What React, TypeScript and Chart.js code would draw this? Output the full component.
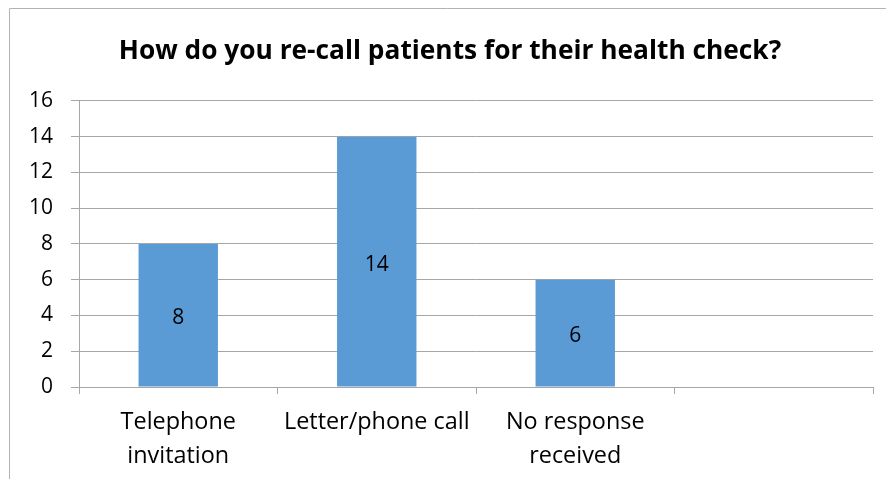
import React, { useEffect, useRef } from "react";
import { Chart, registerables } from "chart.js";

Chart.register(...registerables);

const titleText = "How do you re-call patients for their health check?";
const categories: (string | string[])[] = [
  ["Telephone", "invitation"],
  "Letter/phone call",
  ["No response", "received"],
  "",
];
const values: (number | null)[] = [8, 14, 6, null];
const yMin = 0;
const yMax = 16;
const yStep = 2;

const FONT = "'Open Sans', Lato, sans-serif";
const GRID = "#a6a6a6";
const BAR = "#5b9bd5";

const framePlugin = {
  id: "frame",
  beforeDraw(chart: any) {
    const ctx = chart.ctx;
    ctx.save();
    ctx.strokeStyle = "#b3b3b3";
    ctx.lineWidth = 1;
    ctx.beginPath();
    ctx.moveTo(9.5, chart.height);
    ctx.lineTo(9.5, 8.5);
    ctx.lineTo(886, 8.5);
    ctx.stroke();
    ctx.restore();
  },
};

const valueLabelPlugin = {
  id: "valueLabels",
  afterDatasetsDraw(chart: any) {
    const ctx = chart.ctx;
    ctx.save();
    ctx.font = `21px ${FONT}`;
    ctx.fillStyle = "#000";
    ctx.textAlign = "center";
    ctx.textBaseline = "middle";
    chart.data.datasets.forEach((ds: any, di: number) => {
      const meta = chart.getDatasetMeta(di);
      meta.data.forEach((el: any, i: number) => {
        const v = ds.data[i];
        if (v === null || v === undefined) return;
        const { x, y, base } = el.getProps(["x", "y", "base"], true);
        ctx.fillText(String(v), x, (y + base) / 2 + 3);
      });
    });
    ctx.restore();
  },
};

export default function App() {
  const ref = useRef<HTMLCanvasElement | null>(null);
  useEffect(() => {
    if (!ref.current) return;
    const chart = new Chart(ref.current, {
      type: "bar",
      data: {
        labels: categories,
        datasets: [
          {
            data: values,
            backgroundColor: BAR,
            borderWidth: 0,
            categoryPercentage: 1,
            barPercentage: 0.4,
          },
        ],
      },
      options: {
        animation: false,
        responsive: false,
        layout: { padding: { left: 27, right: 15, top: 0, bottom: 0 } },
        plugins: {
          legend: { display: false },
          tooltip: { enabled: false },
          title: {
            display: true,
            text: titleText,
            color: "#000",
            font: { family: FONT, size: 26.3, weight: "bold", lineHeight: 1.2 },
            padding: { top: 35.5, bottom: 33.9 },
          },
        },
        scales: {
          x: {
            grid: {
              drawOnChartArea: false,
              drawTicks: true,
              tickLength: 7,
              color: GRID,
              offset: true,
            },
            border: { color: GRID, width: 1 },
            ticks: {
              color: "#000",
              font: { family: FONT, size: 23.4, lineHeight: 1.43 },
              padding: 12,
              maxRotation: 0,
              autoSkip: false,
            },
            afterFit(scale: any) {
              scale.height = 92;
            },
          },
          y: {
            min: yMin,
            max: yMax,
            grid: { color: GRID, tickLength: 8, drawTicks: true },
            border: { color: GRID, width: 1 },
            ticks: {
              stepSize: yStep,
              color: "#000",
              font: { family: FONT, size: 21 },
              padding: 18,
            },
            afterFit(scale: any) {
              scale.width = 52;
            },
          },
        },
      },
      plugins: [framePlugin, valueLabelPlugin],
    });
    return () => chart.destroy();
  }, []);
  return (
    <div style={{ position: "fixed", left: 0, top: 0, width: 888, height: 479, background: "#fff" }}>
      <canvas ref={ref} width={888} height={479} />
    </div>
  );
}
